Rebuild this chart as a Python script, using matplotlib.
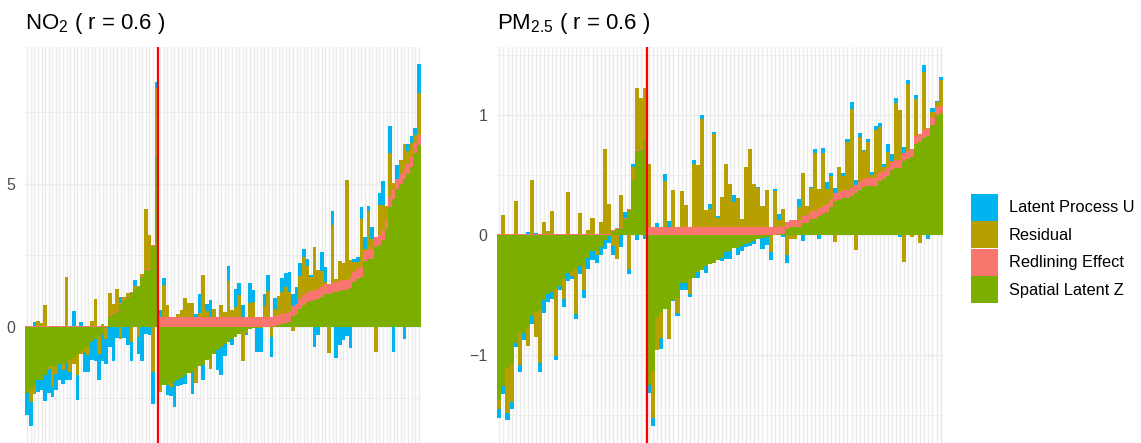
import numpy as np
import matplotlib
matplotlib.use("Agg")
import matplotlib.pyplot as plt
from matplotlib.patches import Patch

plt.rcParams['font.family'] = ['Liberation Sans', 'DejaVu Sans']
plt.rcParams['mathtext.default'] = 'regular'

### Data (bars sorted within each group)
n_left = 37   # bars left of the red line
n_right = 73

# NO2 panel
z_no2 = [-2.33, -2.19, -2.05, -1.87, -1.85, -1.70, -1.42, -1.38, -1.36, -1.30, -1.30, -1.28, -1.15,
         -1.10, -0.95, -0.85, -0.75, -0.70, -0.55, -0.45, -0.35, -0.25, -0.05, 0.38, 0.45, 0.52, 0.80,
         0.92, 1.05, 1.17, 1.30, 1.40, 1.75, 1.97, 1.98, 2.82, 5.96,
         -2.05, -2.05, -2.03, -1.98, -1.93, -1.85, -1.80, -1.70, -1.62, -1.60, -1.47, -1.38, -1.35,
         -1.18, -1.13, -0.95, -0.80, -0.70, -0.62, -0.55, -0.43, -0.36, -0.25, -0.19, -0.13, -0.08,
         -0.06, -0.05, -0.04, -0.03, -0.02, -0.01, 0.02, 0.05, 0.10, 0.13, 0.16, 0.36, 0.45, 0.63,
         0.75, 0.86, 0.88, 0.92, 0.98, 1.04, 1.13, 1.13, 1.19, 1.21, 1.23, 1.27, 1.29, 1.36, 1.55,
         1.65, 1.72, 2.31, 2.35, 2.37, 2.78, 2.84, 3.04, 3.40, 4.20, 4.45, 4.80, 5.00, 5.15, 5.35,
         5.60, 6.06, 6.35]
redline_no2 = [0.03] * n_left + [0.35] * n_right
resid_no2 = [0.0, -0.43, -0.30, 0.17, 0.09, 0.72, -0.05, -0.72, -0.30, 0.0, -0.20, 1.70, -0.45,
             -0.20, -0.75, -0.10, -0.12, -0.30, 0.15, 0.92, -0.60, 0.05, -0.40, 0.75, 0.30, 0.75,
             -0.45, 0.10, 0.10, -0.55, 0.10, -0.35, 0.05, 2.10, 1.20, -1.60, 2.35,
             -0.23, 1.11, 0.41, -0.12, 0.0, 0.09, 0.23, 0.66, 0.47, 0.47, -0.50, 0.12, 1.46, 0.21,
             -0.35, 0.26, 0.0, 0.41, 0.17, 1.26, 0.23, 0.35, 0.76, -1.0, -0.10, 0.47, 0.52, 0.0, 0.0,
             0.37, 0.91, -0.35, 0.26, 0.68, 0.76, 0.91, 0.70, -0.15, 0.0, 0.78, 1.34, 0.90, 0.49,
             1.52, 0.64, 0.55, 0.08, -0.92, 2.0, 0.10, 0.72, 0.61, 3.5, 0.61, 0.35, 0.27, 1.69, 0.05,
             1.34, 0.34, -0.88, 1.05, 0.85, 0.47, 1.52, 0.21, 0.0, 0.47, 0.87, 0.44, 0.47, 0.30, 1.48]
u_no2 = [-0.76, -0.84, 0.12, -0.41, -0.37, -0.90, -0.85, -0.35, -0.55, -0.55, -0.50, -0.60, -0.25,
         0.50, -0.85, 0.12, -0.70, -0.60, -0.60, -0.75, -0.90, -0.95, -0.85, -0.70, -1.20, -0.40,
         0.22, -0.40, -0.65, -0.65, 0.20, -0.60, -1.20, -0.25, -0.30, -1.10, 0.20,
         0.23, 0.24, -0.35, -0.33, -0.87, -0.23, -0.23, -0.29, 0.0, -0.76, 0.09, 0.68, -0.52, 0.23,
         0.58, 0.0, -0.73, -1.0, -0.40, 0.51, -0.20, 0.62, 0.42, 0.41, -0.06, 0.71, 0.41, -0.85,
         -0.85, 0.42, 0.55, -0.70, 0.36, 0.0, 0.49, 0.50, 0.70, 0.44, 0.60, 0.48, 0.27, 0.27, 0.07,
         -0.71, -0.30, 0.66, 0.54, 0.0, 0.52, -1.08, -0.65, -0.47, -0.34, -0.73, 0.10, 0.17, 0.43,
         0.41, 0.17, 0.41, 0.0, 0.42, 0.86, 0.0, 0.96, -0.87, 0.51, 0.0, -0.43, 0.26, 0.23, 0.25, 0.99]

# PM2.5 panel
z_pm = [-1.375, -1.256, -1.106, -1.075, -0.903, -0.814, -0.814, -0.769, -0.675, -0.639, -0.625,
        -0.542, -0.492, -0.478, -0.453, -0.425, -0.367, -0.314, -0.31, -0.281, -0.256, -0.253,
        -0.192, -0.136, -0.13, -0.103, -0.042, -0.008, 0.033, 0.053, 0.06, 0.133, 0.208, 0.467,
        0.70, 0.708, 0.80,
        -1.25, -1.133, -0.681, -0.639, -0.619, -0.619, -0.542, -0.522, -0.403, -0.403, -0.364,
        -0.356, -0.311, -0.292, -0.256, -0.242, -0.231, -0.211, -0.194, -0.139, -0.131, -0.106,
        -0.106, -0.092, -0.075, -0.069, -0.05, -0.036, -0.022, -0.014, -0.005, 0.0, 0.005, 0.01,
        0.047, 0.064, 0.064, 0.064, 0.097, 0.103, 0.133, 0.133, 0.161, 0.178, 0.194, 0.236, 0.283,
        0.292, 0.308, 0.311, 0.328, 0.353, 0.375, 0.403, 0.411, 0.411, 0.411, 0.45, 0.467, 0.494,
        0.542, 0.558, 0.558, 0.619, 0.633, 0.653, 0.761, 0.778, 0.811, 0.828, 0.917, 1.0, 1.014]
redline_pm = [0.008] * n_left + [0.064] * n_right
resid_pm = [-0.078, 0.158, -0.375, -0.314, 0.275, -0.272, 0.0, -0.153, 0.453, -0.208, -0.444,
            0.103, 0.025, 0.194, -0.553, 0.0, -0.169, 0.35, -0.03, -0.378, 0.178, -0.206, 0.033,
            0.133, -0.04, 0.10, 0.708, 0.25, -0.089, -0.197, 0.265, 0.0, -0.286, 0.092, 0.514,
            0.43, 0.414,
            0.528, -0.389, -0.278, -0.222, 0.386, -0.25, 0.311, -0.131, 0.30, 0.183, -0.128, 0.528,
            0.519, 0.903, 0.147, 0.153, 0.778, 0.075, 0.25, 0.528, 0.36, 0.214, 0.244, 0.069, 0.503,
            0.653, 0.36, 0.33, 0.178, 0.311, -0.139, 0.30, 0.06, 0.14, -0.167, -0.033, -0.033,
            0.103, 0.356, 0.078, 0.197, 0.483, 0.156, 0.439, 0.125, 0.189, -0.056, 0.208, 0.117,
            0.403, 0.656, -0.125, 0.378, 0.231, 0.30, 0.022, 0.397, 0.383, 0.033, 0.133, 0.011,
            0.475, 0.417, -0.222, 0.564, -0.014, 0.308, -0.064, 0.483, 0.0, 0.044, 0.047, 0.217]
u_pm = [-0.069, -0.072, -0.061, -0.064, -0.028, -0.056, -0.058, 0.014, -0.064, 0.008, -0.069,
        -0.106, -0.064, -0.056, -0.036, -0.033, -0.061, -0.067, -0.03, -0.039, -0.069, -0.064,
        -0.089, -0.069, -0.06, -0.064, -0.078, -0.056, -0.078, 0.0, -0.097, 0.047, -0.039, 0.025,
        -0.042, 0.0, -0.033,
        -0.064, -0.07, 0.039, -0.092, 0.058, 0.053, -0.01, -0.022, -0.056, -0.056, -0.022, 0.033,
        -0.044, 0.033, -0.058, 0.042, 0.017, 0.019, -0.022, -0.061, -0.069, 0.056, -0.061, -0.039,
        -0.022, -0.019, -0.025, 0.008, -0.094, -0.069, -0.061, 0.017, 0.05, -0.014, -0.069, 0.0,
        0.0, 0.069, -0.05, 0.0, 0.006, 0.036, -0.033, 0.047, 0.056, 0.031, 0.044, 0.006, 0.025,
        0.022, 0.064, 0.042, 0.033, 0.014, 0.022, 0.025, 0.033, 0.033, 0.031, 0.067, 0.058, 0.042,
        -0.014, 0.05, 0.033, 0.0, 0.033, 0.0, 0.058, -0.033, 0.033, 0.008, 0.025]

labels = ['Latent Process U', 'Residual', 'Redlining Effect', 'Spatial Latent Z']
colors = {'Latent Process U': '#00B4F0', 'Residual': '#B79F00',
          'Redlining Effect': '#F8766D', 'Spatial Latent Z': '#7CAE00'}


def stacked_bars(ax, comps):
    # ggplot-style stacking: positives go up from 0, negatives go down from 0
    x = np.arange(1, len(comps[0][1]) + 1)
    pos = np.zeros(len(x))
    neg = np.zeros(len(x))
    for name, vals in comps:
        vals = np.asarray(vals, dtype=float)
        bottom = np.where(vals >= 0, pos, neg)
        ax.bar(x, vals, bottom=bottom, width=1.0, color=colors[name], linewidth=0)
        pos += np.clip(vals, 0, None)
        neg += np.clip(vals, None, 0)
    return x


def style_panel(ax, x, ylim, major, minor):
    ax.set_xlim(0.4, len(x) + 0.6)
    ax.set_ylim(*ylim)
    ax.set_xticks(x)
    ax.set_yticks(major)
    ax.set_yticks(minor, minor=True)
    ax.set_axisbelow(True)
    ax.grid(axis='x', which='major', color='#EBEBEB', linewidth=1.07)
    ax.grid(axis='y', which='major', color='#EBEBEB', linewidth=1.07)
    ax.grid(axis='y', which='minor', color='#EBEBEB', linewidth=0.6)
    ax.tick_params(axis='x', length=0, labelbottom=False)
    ax.tick_params(axis='y', which='both', length=0, pad=7, labelsize=11.5, labelcolor='#4D4D4D')
    for s in ax.spines.values():
        s.set_visible(False)
    ax.axvline(n_left + 0.5, color='red', linewidth=1.6)


fig = plt.figure(figsize=(11.41, 4.43), dpi=100)
W, H = 1141, 443

ax1 = fig.add_axes([25 / W, 0, 396 / W, 1 - 47 / H])
x1 = stacked_bars(ax1, [('Spatial Latent Z', z_no2), ('Redlining Effect', redline_no2),
                        ('Residual', resid_no2), ('Latent Process U', u_no2)])
style_panel(ax1, x1, (-4.07, 9.78), [0, 5], [-2.5, 2.5, 7.5])

ax2 = fig.add_axes([497 / W, 0, 446 / W, 1 - 47 / H])
x2 = stacked_bars(ax2, [('Spatial Latent Z', z_pm), ('Redlining Effect', redline_pm),
                        ('Residual', resid_pm), ('Latent Process U', u_pm)])
style_panel(ax2, x2, (-1.733, 1.567), [-1, 0, 1], [-1.5, -0.5, 0.5, 1.5])

# titles
fig.text(25 / W, 1 - 28.5 / H, r'NO$_2$ ( r = 0.6 )', fontsize=16, va='baseline', ha='left')
fig.text(497 / W, 1 - 28.5 / H, r'PM$_{2.5}$ ( r = 0.6 )', fontsize=16, va='baseline', ha='left')

# legend: 27 px square keys
fs = 11.8
fs_px = fs * 100 / 72
key_w = 27 / fs_px
key_h = (27 / fs_px - 0.245) / 0.65
handles = [Patch(facecolor=colors[l], edgecolor='none', label=l) for l in labels]
fig.legend(handles=handles, loc='center left', bbox_to_anchor=(970.5 / W, 1 - 248.5 / H),
           frameon=False, fontsize=fs, handlelength=key_w, handleheight=key_h,
           handletextpad=0.69, labelspacing=0.03, borderpad=0, borderaxespad=0)

fig.savefig('out.png', dpi=100)
